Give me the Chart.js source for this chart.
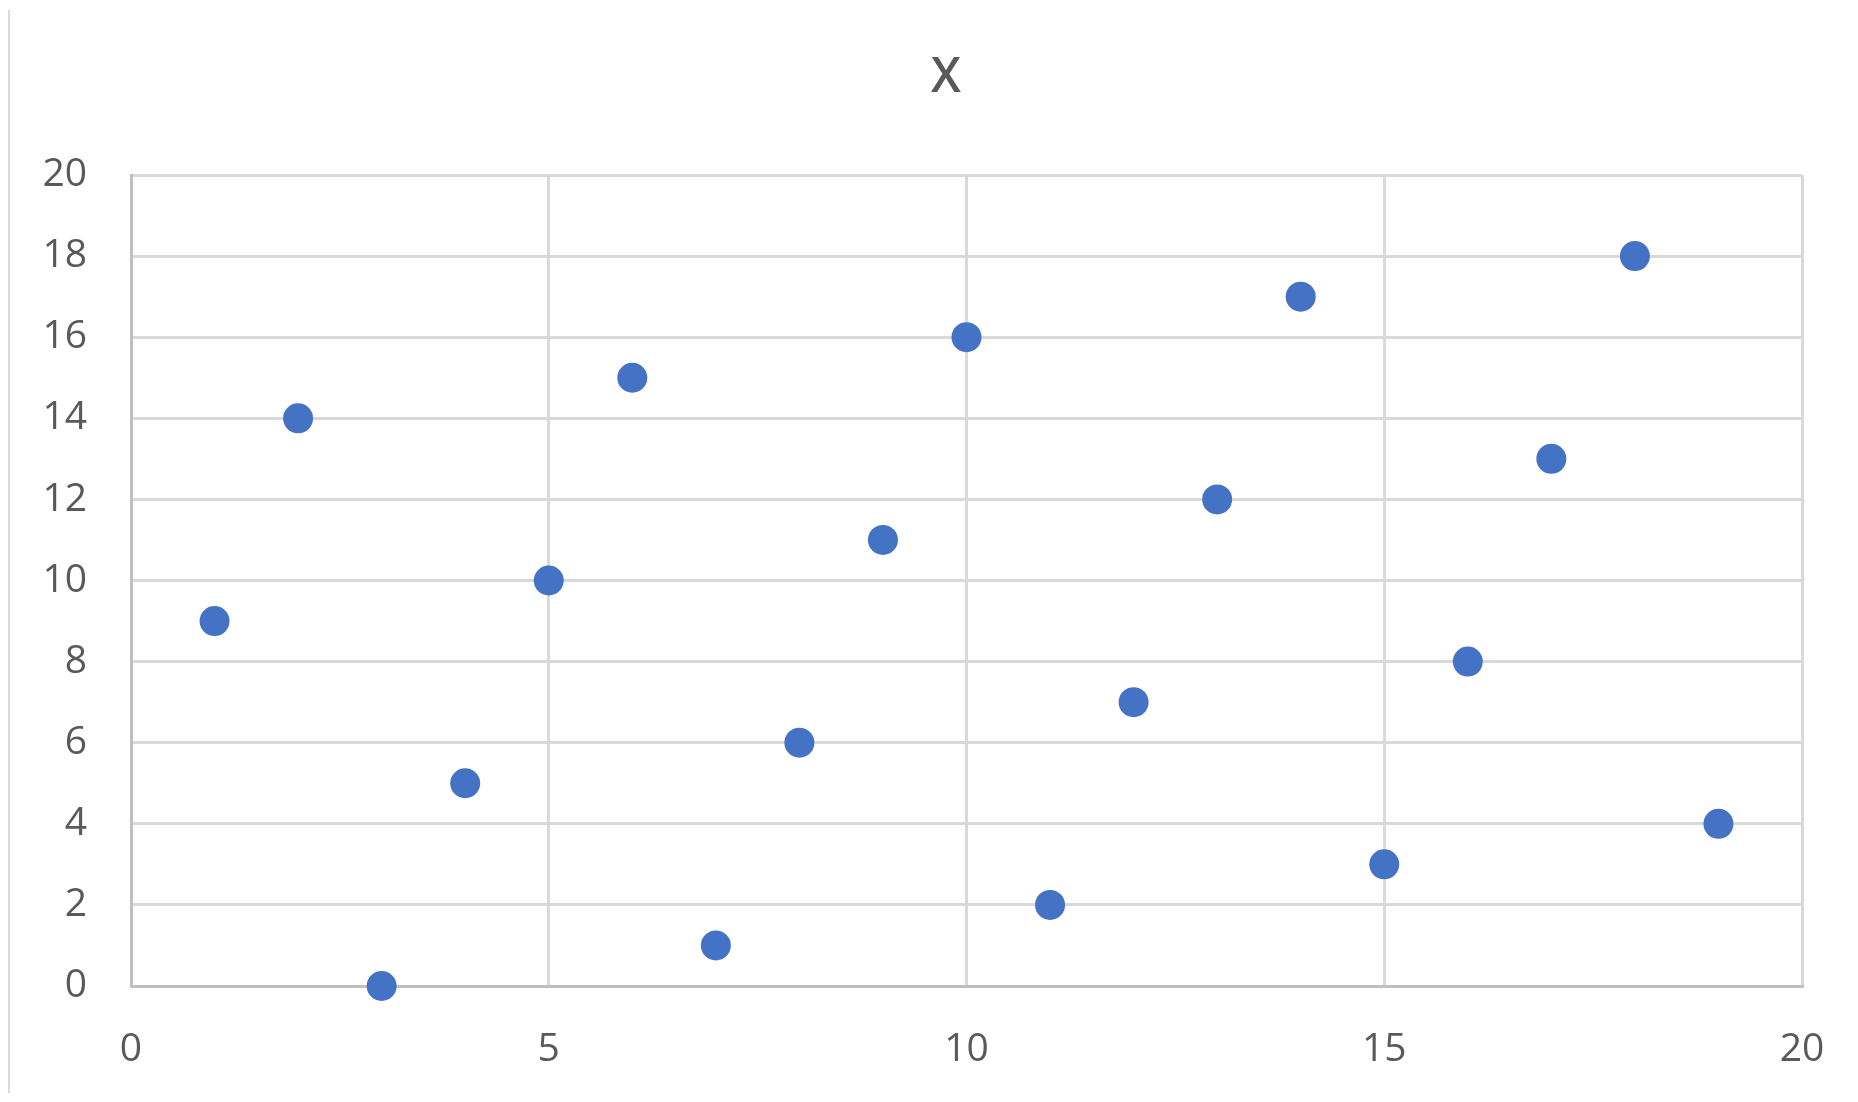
<!DOCTYPE html>
<html>
<head>
<meta charset="utf-8">
<script src="https://cdn.jsdelivr.net/npm/chart.js@4/dist/chart.umd.min.js"></script>
<style>
  html, body { margin: 0; padding: 0; background: #ffffff; }
  #wrap { position: relative; width: 1858px; height: 1102px; }
  canvas { display: block; }
</style>
</head>
<body>
<div id="wrap"><canvas id="c" width="1858" height="1102"></canvas></div>
<script>
const chartTitle = "X";
const xValues = [1, 2, 3, 4, 5, 6, 7, 8, 9, 10, 11, 12, 13, 14, 15, 16, 17, 18, 19];
const yValues = [9, 14, 0, 5, 10, 15, 1, 6, 11, 16, 2, 7, 12, 17, 3, 8, 13, 18, 4];
const xTicks = [0, 5, 10, 15, 20];
const yTicks = [0, 2, 4, 6, 8, 10, 12, 14, 16, 18, 20];

const points = xValues.map((x, i) => ({ x: x, y: yValues[i] }));

const frameAndTitle = {
  id: 'frameAndTitle',
  beforeDraw(chart) {
    const ctx = chart.ctx;
    ctx.save();
    ctx.strokeStyle = '#d9d9d9';
    ctx.lineWidth = 2;
    ctx.beginPath();
    ctx.moveTo(9, 10);
    ctx.lineTo(9, 1093);
    ctx.stroke();
    ctx.restore();
  },
  afterDraw(chart) {
    const ctx = chart.ctx;
    ctx.save();
    ctx.fillStyle = '#595959';
    ctx.font = '600 48px "Open Sans"';
    ctx.textAlign = 'center';
    ctx.textBaseline = 'alphabetic';
    ctx.fillText(chartTitle, 946, 92);
    ctx.restore();
  }
};

new Chart(document.getElementById('c'), {
  type: 'scatter',
  data: {
    datasets: [{
      data: points,
      backgroundColor: '#4472C4',
      borderColor: '#4472C4',
      borderWidth: 0,
      pointRadius: 15,
      pointHoverRadius: 15,
      clip: false
    }]
  },
  plugins: [frameAndTitle],
  options: {
    responsive: false,
    animation: false,
    devicePixelRatio: 1,
    layout: { padding: { left: 40, right: 56, top: 175, bottom: 0 } },
    plugins: {
      legend: { display: false },
      tooltip: { enabled: false },
      title: { display: false }
    },
    scales: {
      x: {
        type: 'linear',
        min: 0,
        max: 20,
        afterBuildTicks(scale) { scale.ticks = xTicks.map(v => ({ value: v })); },
        afterFit(scale) {
          scale.height = 116;
          scale.paddingLeft = 22;
          scale.paddingRight = 22;
        },
        grid: { color: '#d9d9d9', lineWidth: 3, drawTicks: false },
        border: { display: true, color: '#bfbfbf', width: 3 },
        ticks: {
          color: '#595959',
          font: { family: 'Open Sans', size: 39 },
          padding: 40,
          maxRotation: 0
        }
      },
      y: {
        type: 'linear',
        min: 0,
        max: 20,
        afterBuildTicks(scale) { scale.ticks = yTicks.map(v => ({ value: v })); },
        afterFit(scale) { scale.width = 91; },
        grid: { color: '#d9d9d9', lineWidth: 3, drawTicks: false },
        border: { display: true, color: '#bfbfbf', width: 3 },
        ticks: {
          color: '#595959',
          font: { family: 'Open Sans', size: 39 },
          padding: 44
        }
      }
    }
  }
});
</script>
</body>
</html>
